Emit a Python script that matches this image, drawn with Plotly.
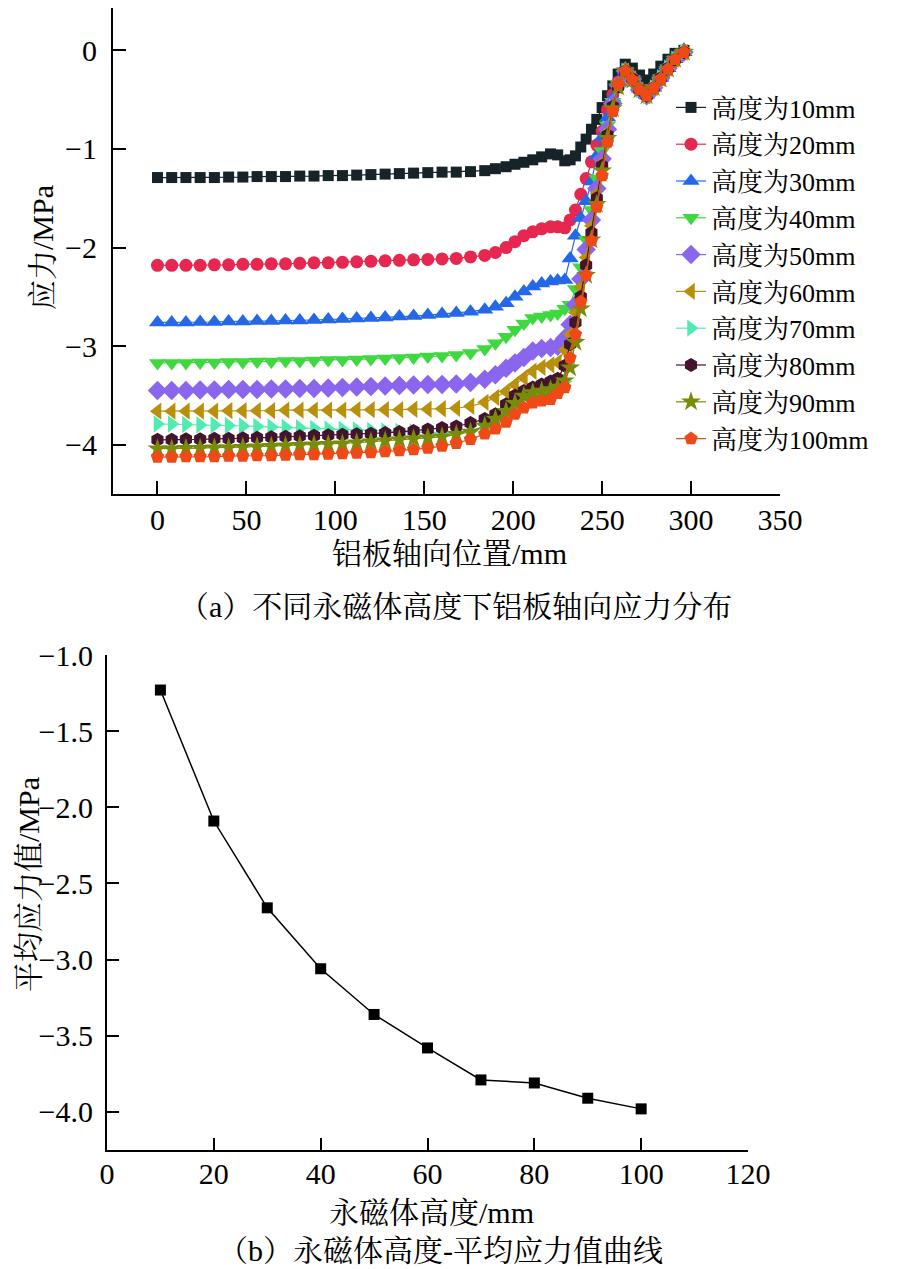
import plotly.graph_objects as go

# ---------------- data: (a) axial stress along aluminium plate ----------------
pos_mm = [0, 8, 16, 24, 32, 40, 48, 56, 64, 72, 80, 88, 96, 104, 112, 120, 128, 136,
          144, 152, 160, 168, 176, 184, 190, 196, 201, 206, 211, 216, 221, 225, 229,
          232, 235, 238, 241, 244, 247, 250, 253, 256, 259, 263, 267, 271, 275, 279,
          283, 287, 291, 296]

series_names = ["高度为10mm", "高度为20mm", "高度为30mm", "高度为40mm", "高度为50mm",
                "高度为60mm", "高度为70mm", "高度为80mm", "高度为90mm", "高度为100mm"]

s10 = [-1.29, -1.29, -1.29, -1.29, -1.29, -1.285, -1.285, -1.28, -1.28, -1.28, -1.275, -1.275,
       -1.27, -1.27, -1.265, -1.26, -1.255, -1.25, -1.245, -1.24, -1.235, -1.235, -1.23, -1.22,
       -1.20, -1.18, -1.155, -1.135, -1.11, -1.08, -1.05, -1.06, -1.12,
       -1.11, -1.07, -0.98, -0.90, -0.80, -0.70, -0.58, -0.46, -0.36, -0.24,
       -0.14, -0.18, -0.25, -0.30, -0.24, -0.16, -0.09, -0.03, 0.0]
s20 = [-2.18, -2.18, -2.18, -2.18, -2.175, -2.175, -2.17, -2.17, -2.165, -2.165, -2.16, -2.155,
       -2.155, -2.15, -2.145, -2.14, -2.135, -2.13, -2.125, -2.12, -2.115, -2.11, -2.095, -2.08,
       -2.05, -2.00, -1.94, -1.88, -1.84, -1.81, -1.79, -1.79, -1.80,
       -1.72, -1.62, -1.46, -1.30, -1.13, -0.96, -0.82, -0.60, -0.45, -0.32,
       -0.21, -0.28, -0.39, -0.45, -0.38, -0.28, -0.18, -0.09, -0.02]
s30 = [-2.76, -2.76, -2.76, -2.755, -2.755, -2.75, -2.75, -2.745, -2.745, -2.74, -2.74, -2.735,
       -2.73, -2.725, -2.72, -2.715, -2.71, -2.70, -2.695, -2.685, -2.675, -2.665, -2.65, -2.63,
       -2.60, -2.565, -2.50, -2.445, -2.395, -2.365, -2.345, -2.335, -2.33,
       -2.11, -1.88, -1.70, -1.53, -1.33, -1.07, -0.88, -0.68, -0.48, -0.33,
       -0.21, -0.28, -0.39, -0.45, -0.38, -0.28, -0.18, -0.09, -0.02]
s40 = [-3.17, -3.17, -3.17, -3.165, -3.165, -3.16, -3.16, -3.155, -3.155, -3.15, -3.15, -3.145,
       -3.14, -3.14, -3.135, -3.13, -3.125, -3.12, -3.115, -3.105, -3.10, -3.09, -3.07, -3.03,
       -2.97, -2.905, -2.835, -2.77, -2.715, -2.70, -2.685, -2.67, -2.62,
       -2.58, -2.42, -2.20, -1.92, -1.62, -1.30, -1.02, -0.76, -0.52, -0.34,
       -0.21, -0.29, -0.40, -0.46, -0.38, -0.28, -0.18, -0.09, -0.02]
s50 = [-3.45, -3.45, -3.45, -3.445, -3.445, -3.44, -3.44, -3.44, -3.435, -3.435, -3.43, -3.43,
       -3.425, -3.42, -3.415, -3.41, -3.405, -3.40, -3.395, -3.39, -3.39, -3.385, -3.37, -3.335,
       -3.29, -3.225, -3.17, -3.115, -3.05, -3.025, -3.015, -3.00, -2.92,
       -2.78, -2.58, -2.32, -2.02, -1.72, -1.40, -1.10, -0.80, -0.54, -0.35,
       -0.21, -0.29, -0.40, -0.46, -0.38, -0.28, -0.18, -0.09, -0.02]
s60 = [-3.66, -3.66, -3.66, -3.66, -3.66, -3.655, -3.655, -3.655, -3.655, -3.65, -3.65, -3.65,
       -3.65, -3.65, -3.645, -3.645, -3.645, -3.645, -3.64, -3.64, -3.635, -3.63, -3.61, -3.57,
       -3.52, -3.46, -3.39, -3.32, -3.255, -3.215, -3.19, -3.165, -3.04,
       -2.88, -2.66, -2.40, -2.10, -1.78, -1.45, -1.14, -0.83, -0.56, -0.36,
       -0.21, -0.29, -0.40, -0.46, -0.38, -0.28, -0.18, -0.09, -0.02]
s70 = [-3.79, -3.79, -3.795, -3.80, -3.80, -3.805, -3.81, -3.815, -3.82, -3.825, -3.83, -3.835,
       -3.84, -3.845, -3.85, -3.855, -3.86, -3.865, -3.87, -3.875, -3.88, -3.875, -3.86, -3.81,
       -3.74, -3.66, -3.585, -3.51, -3.47, -3.455, -3.44, -3.42, -3.36,
       -3.20, -2.93, -2.60, -2.25, -1.90, -1.55, -1.20, -0.88, -0.58, -0.37,
       -0.21, -0.29, -0.40, -0.46, -0.38, -0.28, -0.18, -0.09, -0.02]
s80 = [-3.95, -3.95, -3.945, -3.945, -3.94, -3.94, -3.935, -3.93, -3.925, -3.92, -3.915, -3.91,
       -3.905, -3.90, -3.895, -3.89, -3.88, -3.87, -3.86, -3.845, -3.83, -3.815, -3.78, -3.74,
       -3.69, -3.59, -3.50, -3.455, -3.42, -3.39, -3.36, -3.33, -3.20,
       -2.98, -2.76, -2.50, -2.18, -1.85, -1.50, -1.17, -0.86, -0.57, -0.37,
       -0.21, -0.29, -0.40, -0.46, -0.38, -0.28, -0.18, -0.09, -0.02]
s90 = [-4.04, -4.04, -4.035, -4.035, -4.03, -4.03, -4.025, -4.02, -4.015, -4.01, -4.005, -4.0,
       -3.995, -3.99, -3.98, -3.97, -3.96, -3.95, -3.94, -3.93, -3.92, -3.895, -3.87, -3.81,
       -3.74, -3.66, -3.58, -3.505, -3.47, -3.455, -3.44, -3.415, -3.35,
       -3.22, -2.96, -2.62, -2.28, -1.92, -1.56, -1.22, -0.89, -0.59, -0.37,
       -0.21, -0.30, -0.40, -0.46, -0.38, -0.29, -0.19, -0.09, -0.02]
s100 = [-4.125, -4.125, -4.12, -4.12, -4.12, -4.115, -4.115, -4.11, -4.11, -4.105, -4.10, -4.10,
        -4.095, -4.09, -4.085, -4.08, -4.07, -4.06, -4.05, -4.035, -4.015, -3.985, -3.945, -3.89,
        -3.84, -3.77, -3.69, -3.625, -3.575, -3.555, -3.54, -3.48, -3.42,
        -3.12, -2.88, -2.55, -2.28, -1.93, -1.59, -1.27, -0.93, -0.62, -0.34,
        -0.21, -0.30, -0.40, -0.46, -0.38, -0.29, -0.19, -0.09, -0.02]

stress_series = [s10, s20, s30, s40, s50, s60, s70, s80, s90, s100]

# ---------------- data: (b) average stress vs magnet height ----------------
magnet_height = [10, 20, 30, 40, 50, 60, 70, 80, 90, 100]
avg_stress = [-1.23, -2.09, -2.66, -3.06, -3.36, -3.58, -3.79, -3.81, -3.91, -3.98]

# tick definitions
a_xticks = [0, 50, 100, 150, 200, 250, 300, 350]
a_yticks = [-4, -3, -2, -1, 0]
a_yticklabels = ["−4", "−3", "−2", "−1", "0"]
b_xticks = [0, 20, 40, 60, 80, 100, 120]
b_yticks = [-4.0, -3.5, -3.0, -2.5, -2.0, -1.5, -1.0]

# ---------------- styles ----------------
colors = ["#162329", "#e62850", "#2468e8", "#40d840", "#8a66ee",
          "#b8900c", "#50ebb0", "#44142e", "#788c0a", "#ee4a18"]
symbols = ["square", "circle", "triangle-up", "triangle-down", "diamond",
           "triangle-left", "triangle-right", "hexagon", "star", "pentagon"]
sizes = [11, 13, 15, 15, 15, 15, 15, 14, 15, 14]

FONT = "Liberation Serif, 'Noto Serif CJK SC', 'Noto Sans CJK SC', serif"
OFF = 8                      # page body margin of the html page
W, H = 917 - OFF, 1269 - OFF

def px(x):
    return (x - OFF) / W

def py(y):
    return min(1.0, 1 - (y - OFF) / H)

fig = go.Figure()

for name, ys, c, s, sz in zip(series_names, stress_series, colors, symbols, sizes):
    fig.add_trace(go.Scatter(
        x=pos_mm, y=ys, name=name, mode="lines+markers",
        line=dict(color=c, width=1.2),
        marker=dict(symbol=s, size=sz, color=c, line=dict(width=0)),
        xaxis="x", yaxis="y",
    ))

fig.add_trace(go.Scatter(
    x=magnet_height, y=avg_stress, mode="lines+markers", showlegend=False,
    line=dict(color="black", width=1.5),
    marker=dict(symbol="square", size=11, color="black"),
    xaxis="x2", yaxis="y2",
))

axis_common = dict(
    showline=True, linecolor="black", linewidth=2.2, ticks="inside",
    tickcolor="black", tickwidth=2, showgrid=False, zeroline=False,
    tickfont=dict(family=FONT, size=30, color="black"), mirror=False,
    automargin=False,
)

fig.update_layout(
    template="none",
    width=W, height=H, autosize=False,
    margin=dict(l=0, r=0, t=0, b=0, pad=0),
    paper_bgcolor="white", plot_bgcolor="white",
    font=dict(family=FONT, color="black"),
    xaxis=dict(domain=[px(113), px(780)], range=[-25, 350], tickvals=a_xticks,
               ticklen=13, anchor="y", ticklabelstandoff=-2, **axis_common),
    yaxis=dict(domain=[py(494), py(8)], range=[-4.5, 0.43], tickvals=a_yticks,
               ticktext=a_yticklabels, ticklen=13, anchor="x",
               ticklabelstandoff=8, **axis_common),
    xaxis2=dict(domain=[px(107), px(748)], range=[0, 120], tickvals=b_xticks,
                ticklen=12, anchor="y2", ticklabelstandoff=-4, **axis_common),
    yaxis2=dict(domain=[py(1150), py(655)], range=[-4.25, -1.0], tickvals=b_yticks,
                tickformat=".1f", ticklen=12, anchor="x2", ticklabelstandoff=6,
                **axis_common),
    legend=dict(x=px(671), y=py(84), xanchor="left", yanchor="top",
                bgcolor="rgba(0,0,0,0)", borderwidth=0,
                font=dict(family=FONT, size=26, color="black"),
                tracegroupgap=0, itemwidth=30),
    showlegend=True,
)

ann_font = dict(family=FONT, size=30, color="black")
annotations = [
    dict(text="应力/MPa", x=px(42), y=py(248), textangle=-90),
    dict(text="铝板轴向位置/mm", x=px(449), y=py(553)),
    dict(text="（a）不同永磁体高度下铝板轴向应力分布", x=px(455), y=py(606)),
    dict(text="平均应力值/MPa", x=px(28), y=py(885), textangle=-90),
    dict(text="永磁体高度/mm", x=px(431), y=py(1212)),
    dict(text="（b）永磁体高度-平均应力值曲线", x=px(440), y=py(1250)),
]
for a in annotations:
    fig.add_annotation(xref="paper", yref="paper", showarrow=False,
                       xanchor="center", yanchor="middle", font=ann_font, **a)

fig.write_html("out.html")
